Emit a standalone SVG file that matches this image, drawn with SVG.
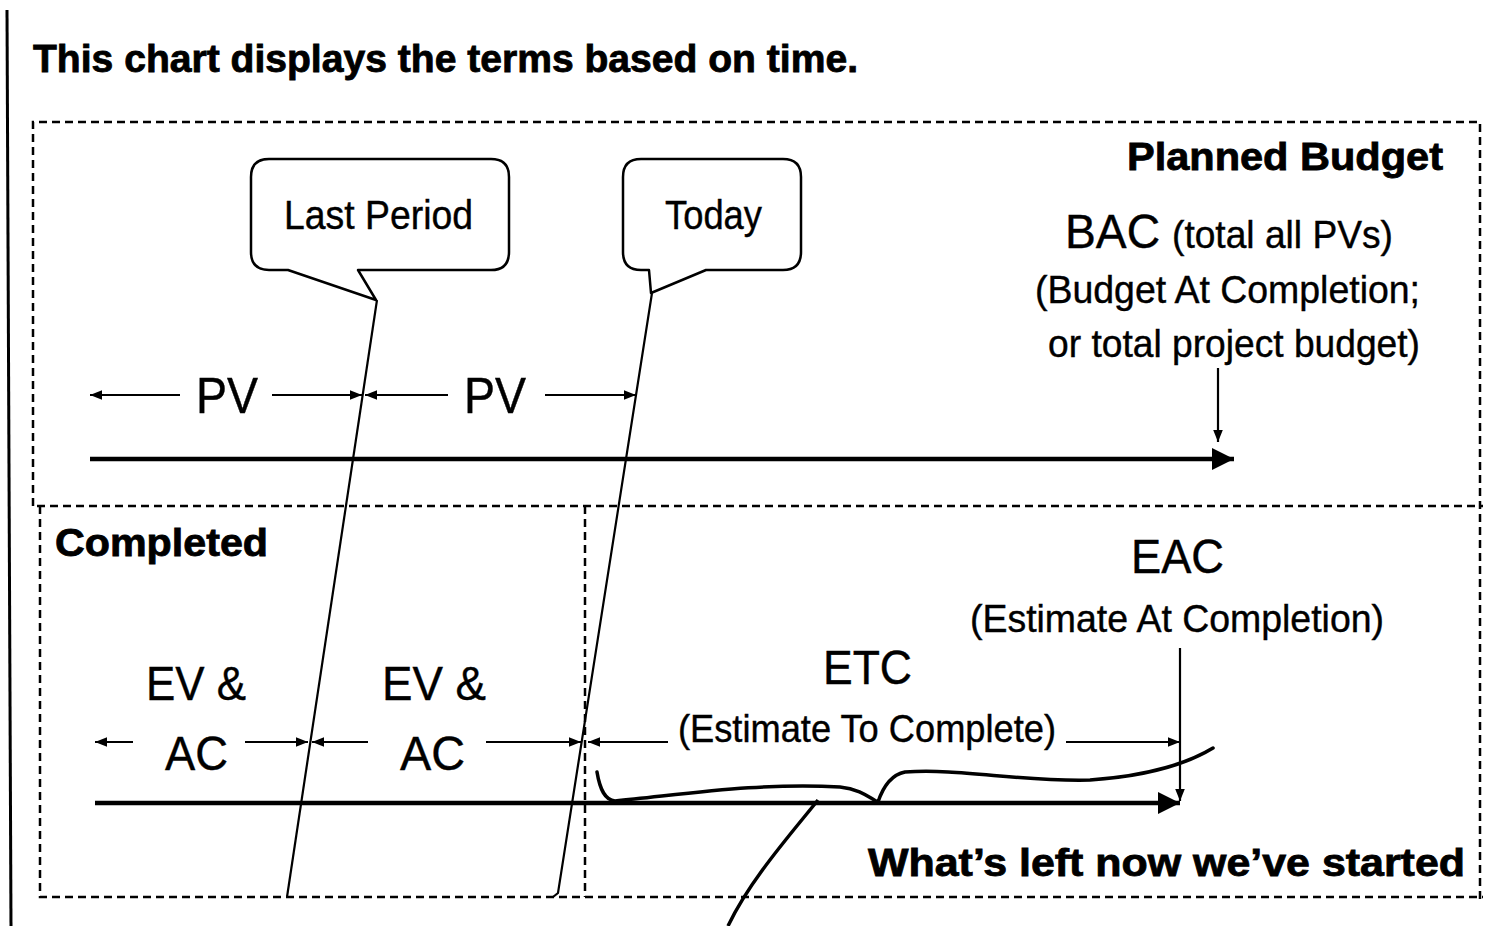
<svg xmlns="http://www.w3.org/2000/svg" width="1489" height="926" viewBox="0 0 1489 926">
<defs>
<style>
.t{font-family:"Liberation Sans",Arial,sans-serif;fill:#000;stroke:#000;stroke-width:0.4}
.b{font-family:"Liberation Sans",Arial,sans-serif;font-weight:bold;fill:#000;stroke:#000;stroke-width:0.8}
.dash{fill:none;stroke:#000;stroke-width:2.5;stroke-dasharray:8 5}
.thin{fill:none;stroke:#000;stroke-width:2.2}
.thick{fill:none;stroke:#000;stroke-width:4.5}
.bub{fill:#fff;stroke:#000;stroke-width:2.5;stroke-linejoin:round}
</style>
<marker id="ah" viewBox="0 0 10 10" refX="10" refY="5" markerWidth="14" markerHeight="12" markerUnits="userSpaceOnUse" orient="auto"><path d="M0,1 L10,5 L0,9 Z" fill="#000"/></marker>
<marker id="big" viewBox="0 0 10 10" refX="10" refY="5" markerWidth="24" markerHeight="22" markerUnits="userSpaceOnUse" orient="auto"><path d="M0,0 L10,5 L0,10 Z" fill="#000"/></marker>
</defs>
<rect width="1489" height="926" fill="#fff"/>
<line x1="7" y1="10" x2="11" y2="926" stroke="#000" stroke-width="3"/>
<text class="b" x="33" y="72" font-size="38" textLength="825" lengthAdjust="spacingAndGlyphs">This chart displays the terms based on time.</text>

<g id="frame">
<path class="dash" d="M33,506 V122 H1480 V900"/>
<path class="dash" d="M37,506 H1483"/>
<path class="dash" d="M40,506 V897 H1483"/>
<line class="dash" x1="585" y1="506" x2="585" y2="897"/>
</g>

<g id="planned-budget"><text class="b" x="1127" y="170" font-size="38" textLength="316" lengthAdjust="spacingAndGlyphs">Planned Budget</text></g>
<g id="completed"><text class="b" x="55" y="556" font-size="38" textLength="213" lengthAdjust="spacingAndGlyphs">Completed</text></g>
<g id="whats-left"><text class="b" x="868" y="876" font-size="38" textLength="597" lengthAdjust="spacingAndGlyphs">What’s left now we’ve started</text></g>

<g id="last-period">
<path class="bub" d="M269,159 H491 Q509,159 509,177 V252 Q509,270 491,270 H358 L376,300 L288,270 H269 Q251,270 251,252 V177 Q251,159 269,159 Z"/>
<text class="t" x="284" y="229" font-size="40" textLength="189" lengthAdjust="spacingAndGlyphs">Last Period</text>
</g>
<g id="today">
<path class="bub" d="M641,159 H783 Q801,159 801,177 V252 Q801,270 783,270 H706 L651,293 L649,270 H641 Q623,270 623,252 V177 Q623,159 641,159 Z"/>
<text class="t" x="665" y="229" font-size="40" textLength="97" lengthAdjust="spacingAndGlyphs">Today</text>
</g>

<g id="pv1"><text class="t" x="196" y="413" font-size="50" textLength="62" lengthAdjust="spacingAndGlyphs">PV</text></g>
<g id="pv2"><text class="t" x="464" y="413" font-size="50" textLength="62" lengthAdjust="spacingAndGlyphs">PV</text></g>

<g id="bac">
<text class="t" x="1065" y="248" font-size="48" textLength="95" lengthAdjust="spacingAndGlyphs">BAC</text>
<text class="t" x="1172" y="248" font-size="38" textLength="221" lengthAdjust="spacingAndGlyphs">(total all PVs)</text>
<text class="t" x="1035" y="303" font-size="38" textLength="385" lengthAdjust="spacingAndGlyphs">(Budget At Completion;</text>
<text class="t" x="1048" y="357" font-size="38" textLength="372" lengthAdjust="spacingAndGlyphs">or total project budget)</text>
</g>

<g id="ev-ac-1">
<text class="t" x="146" y="700" font-size="48" textLength="100" lengthAdjust="spacingAndGlyphs">EV &amp;</text>
<text class="t" x="165" y="770" font-size="48" textLength="63" lengthAdjust="spacingAndGlyphs">AC</text>
</g>
<g id="ev-ac-2">
<text class="t" x="382" y="700" font-size="48" textLength="104" lengthAdjust="spacingAndGlyphs">EV &amp;</text>
<text class="t" x="400" y="770" font-size="48" textLength="65" lengthAdjust="spacingAndGlyphs">AC</text>
</g>

<g id="etc">
<text class="t" x="823" y="684" font-size="48" textLength="89" lengthAdjust="spacingAndGlyphs">ETC</text>
<text class="t" x="678" y="742" font-size="38" textLength="378" lengthAdjust="spacingAndGlyphs">(Estimate To Complete)</text>
</g>
<g id="eac">
<text class="t" x="1131" y="573" font-size="48" textLength="93" lengthAdjust="spacingAndGlyphs">EAC</text>
<text class="t" x="970" y="632" font-size="38" textLength="414" lengthAdjust="spacingAndGlyphs">(Estimate At Completion)</text>
</g>

<g id="connectors">
<line class="thick" x1="90" y1="459" x2="1234" y2="459" marker-end="url(#big)"/>
<line class="thick" x1="95" y1="803" x2="1180" y2="803" marker-end="url(#big)"/>
<line class="thin" x1="377" y1="300" x2="287" y2="897"/>
<path class="thin" d="M652,293 L558,893 L553,897"/>
<line class="thin" x1="180" y1="395" x2="90" y2="395" marker-end="url(#ah)"/>
<line class="thin" x1="272" y1="395" x2="362" y2="395" marker-end="url(#ah)"/>
<line class="thin" x1="448" y1="395" x2="365" y2="395" marker-end="url(#ah)"/>
<line class="thin" x1="545" y1="395" x2="636" y2="395" marker-end="url(#ah)"/>
<line class="thin" x1="1218" y1="368" x2="1218" y2="442" marker-end="url(#ah)"/>
<line class="thin" x1="133" y1="742" x2="95" y2="742" marker-end="url(#ah)"/>
<line class="thin" x1="245" y1="742" x2="308" y2="742" marker-end="url(#ah)"/>
<line class="thin" x1="368" y1="742" x2="312" y2="742" marker-end="url(#ah)"/>
<line class="thin" x1="486" y1="742" x2="581" y2="742" marker-end="url(#ah)"/>
<line class="thin" x1="668" y1="742" x2="588" y2="742" marker-end="url(#ah)"/>
<line class="thin" x1="1066" y1="742" x2="1180" y2="742" marker-end="url(#ah)"/>
<line class="thin" x1="1180" y1="648" x2="1180" y2="801" marker-end="url(#ah)"/>
<path fill="none" stroke="#000" stroke-width="3.5" stroke-linecap="round" d="M597,772 C600,790 605,800 615,801 C680,795 760,782 840,787 C862,789 872,800 878,802 C882,790 890,775 905,772 C960,768 1020,782 1090,780 C1150,776 1190,762 1213,748"/>
<path fill="none" stroke="#000" stroke-width="3.5" d="M818,800 C790,835 750,880 728,926"/>
</g>
</svg>
